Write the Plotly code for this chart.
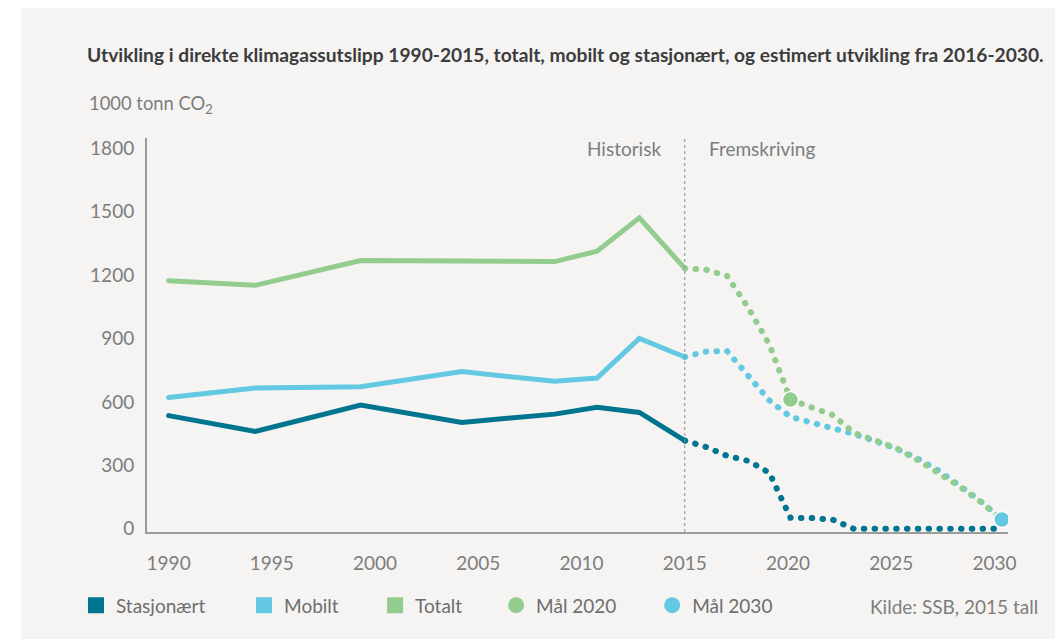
import plotly.graph_objects as go

# ---------------- data ----------------
hist_years = [1990, 1994.2, 1999.3, 2004.2, 2008.7, 2010.75, 2012.8, 2015]
stasjonaert_hist = [535, 460, 585, 503, 542, 574, 550, 417]
mobilt_hist = [621, 665, 672, 743, 697, 713, 900, 812]
totalt_hist = [1173, 1151, 1268, 1265, 1263, 1312, 1470, 1231]

proj_years = list(range(2015, 2031))
stasjonaert_proj = [417, 387, 345, 321, 265, 52, 51, 43, 0, 0, 0, 0, 0, 0, 0, 0]
mobilt_proj = [812, 838, 840, 720, 607, 529, 503, 480, 448, 415, 379, 333, 276, 204, 130, 44]
totalt_proj = [1231, 1225, 1195, 1046, 871, 611, 574, 538, 454, 417, 382, 326, 264, 200, 128, 45]

goal_2020 = (2020, 611)
goal_2030 = (2030, 44)

x_ticks = [1990, 1995, 2000, 2005, 2010, 2015, 2020, 2025, 2030]
y_ticks = [0, 300, 600, 900, 1200, 1500, 1800]

C_STAS = "#00758f"
C_MOB = "#63c8e2"
C_TOT = "#93cc8f"
BG = "#f5f4f2"
FONT = "Lato"
GRAY = "#7d7d7d"
FS = 19

fig = go.Figure()

# historical solid lines
for ys, c in [(totalt_hist, C_TOT), (mobilt_hist, C_MOB), (stasjonaert_hist, C_STAS)]:
    fig.add_trace(go.Scatter(x=hist_years, y=ys, mode="lines",
                             line=dict(color=c, width=5),
                             showlegend=False, hoverinfo="skip"))

# projections (dotted) on second x scale
for ys, c in [(stasjonaert_proj, C_STAS), (mobilt_proj, C_MOB), (totalt_proj, C_TOT)]:
    fig.add_trace(go.Scatter(x=proj_years, y=ys, mode="lines", xaxis="x2",
                             line=dict(color=c, width=6, dash="0.5px,10.3px"),
                             showlegend=False, hoverinfo="skip"))

# goals
fig.add_trace(go.Scatter(x=[goal_2020[0]], y=[goal_2020[1]], mode="markers", xaxis="x2",
                         marker=dict(size=16, color=C_TOT, line=dict(color="white", width=1.5)),
                         showlegend=False, hoverinfo="skip"))
fig.add_trace(go.Scatter(x=[goal_2030[0]], y=[goal_2030[1]], mode="markers", xaxis="x2",
                         marker=dict(size=16, color=C_MOB, line=dict(color="white", width=1.5)),
                         showlegend=False, hoverinfo="skip"))

# legend entries (separate legends for exact placement)
legend_items = [
    ("Stasjonært", "square", C_STAS, "legend", 76),
    ("Mobilt", "square", C_MOB, "legend2", 244),
    ("Totalt", "square", C_TOT, "legend3", 375),
    ("Mål 2020", "circle", C_TOT, "legend4", 496),
    ("Mål 2030", "circle", C_MOB, "legend5", 652),
]
PX_L, PX_R, PX_T, PX_B = 147, 1007.7, 138, 531.7
W, H = 1055, 639


def px2paper_x(px):
    return (px - PX_L) / (PX_R - PX_L)


def px2paper_y(py):
    return (PX_B - py) / (PX_B - PX_T)


legend_layouts = {}
for name, sym, col, lg, lx in legend_items:
    fig.add_trace(go.Scatter(x=[None], y=[None], mode="markers", name=name, legend=lg,
                             marker=dict(symbol=sym, size=16, color=col)))
    legend_layouts[lg] = dict(x=px2paper_x(lx), y=px2paper_y(605), xanchor="left", yanchor="middle",
                              orientation="h", bgcolor="rgba(0,0,0,0)",
                              font=dict(family=FONT, size=FS, color="#6e6e6e"))

fig.update_layout(**legend_layouts)

fig.update_layout(
    width=W, height=H,
    margin=dict(l=PX_L, r=W - PX_R, t=PX_T, b=H - PX_B, pad=0),
    paper_bgcolor=BG,
    plot_bgcolor="rgba(0,0,0,0)",
    title=dict(text="<b>Utvikling i direkte klimagassutslipp 1990-2015, totalt, mobilt og stasjonært, og estimert utvikling fra 2016-2030.</b>",
               x=87 / W, xanchor="left", xref="container",
               y=1 - 55 / H, yanchor="middle", yref="container",
               font=dict(family=FONT, size=19.2, color="#3c3c3c")),
    xaxis=dict(range=[1988.953, 2030.654], tickvals=x_ticks, showgrid=False, zeroline=False,
               showline=True, linecolor="#9b9b9b", linewidth=2, ticks="",
               ticklabelstandoff=13, tickfont=dict(family=FONT, size=FS, color=GRAY)),
    xaxis2=dict(range=[1989.558, 2030.291], overlaying="x", anchor="y", visible=False),
    yaxis=dict(range=[-15.1, 1847.3], tickvals=y_ticks, showgrid=False, zeroline=False,
               showline=True, linecolor="#9b9b9b", linewidth=2, ticks="",
               ticklabelstandoff=7, tickfont=dict(family=FONT, size=FS, color=GRAY)),
    shapes=[
        # white page margins around the grey panel
        dict(type="rect", xref="paper", yref="paper",
             x0=px2paper_x(-10), x1=px2paper_x(21), y0=px2paper_y(H + 10), y1=px2paper_y(-10),
             fillcolor="white", line=dict(width=0), layer="below"),
        dict(type="rect", xref="paper", yref="paper",
             x0=px2paper_x(-10), x1=px2paper_x(W + 10), y0=px2paper_y(8), y1=px2paper_y(-10),
             fillcolor="white", line=dict(width=0), layer="below"),
        dict(type="line", xref="x", yref="paper", x0=2015, x1=2015, y0=0, y1=1,
             line=dict(color="#8a8a8a", width=1, dash="dot")),
    ],
    annotations=[
        dict(text="1000 tonn CO<sub>2</sub>", xref="paper", yref="paper",
             x=px2paper_x(87), y=px2paper_y(105), xanchor="left", yanchor="middle",
             showarrow=False, font=dict(family=FONT, size=18.4, color=GRAY)),
        dict(text="Historisk", xref="x", yref="paper", x=2015, y=px2paper_y(148),
             xanchor="right", yanchor="middle", xshift=-22, showarrow=False,
             font=dict(family=FONT, size=FS, color=GRAY)),
        dict(text="Fremskriving", xref="x", yref="paper", x=2015, y=px2paper_y(148),
             xanchor="left", yanchor="middle", xshift=22, showarrow=False,
             font=dict(family=FONT, size=FS, color=GRAY)),
        dict(text="Kilde: SSB, 2015 tall", xref="paper", yref="paper",
             x=px2paper_x(1040), y=px2paper_y(606), xanchor="right", yanchor="middle",
             showarrow=False, font=dict(family=FONT, size=FS, color=GRAY)),
    ],
)

post_js = """
document.body.style.margin = '0';
document.body.style.background = '#f5f4f2';
var gd = document.getElementById('{plot_id}');
function roundCaps(){
  gd.querySelectorAll('.scatterlayer .js-line').forEach(function(p){
    p.style.strokeLinecap = 'round';
  });
}
roundCaps();
gd.on('plotly_afterplot', roundCaps);
"""

fig.write_html("out.html", post_script=post_js, config={"displayModeBar": False})
